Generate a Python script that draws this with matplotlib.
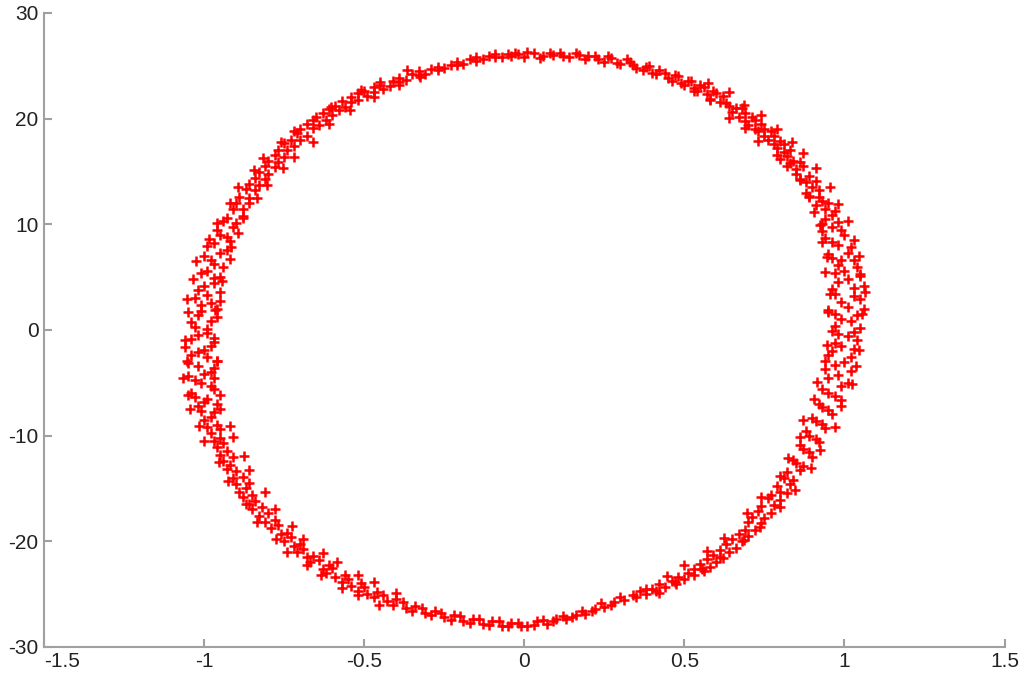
import matplotlib.pyplot as plt

x_q1 = [-0.02, 0.00, 0.03, 0.06, 0.09, 0.11, 0.14, 0.17, 0.19, 0.22, 0.25, 0.27, 0.30, 0.33, 0.35,
        0.38, 0.40, 0.42, 0.45, 0.47, 0.49, 0.51, 0.53, 0.55, 0.57, 0.59, 0.61, 0.62,
        0.64, 0.66, 0.67, 0.69, 0.70, 0.72, 0.73, 0.75, 0.76, 0.78, 0.79, 0.81, 0.82, 0.80,
        0.84, 0.85, 0.87, 0.86, 0.89, 0.90, 0.88, 0.92, 0.93, 0.91, 0.95, 0.96, 0.94,
        0.98, 0.93, 1.00, 0.96, 1.02, 0.95, 0.99, 1.04, 0.97, 1.01, 1.06, 0.96, 1.03, 0.99,
        1.06, 0.97, 1.02, 1.05, 0.96]
y_q1 = [26.1, 25.8, 26.2, 25.9, 26.0, 26.2, 25.8, 26.0, 25.6, 25.9, 25.4, 25.7, 25.2, 25.4, 24.8,
        24.9, 24.3, 24.6, 23.8, 24.1, 23.4, 23.6, 22.9, 23.2, 22.3, 22.6, 21.6, 22.1,
        21.2, 21.0, 20.2, 20.5, 19.4, 19.9, 18.8, 19.0, 18.0, 18.4, 17.2, 17.6, 16.5, 16.2,
        16.0, 15.2, 15.5, 14.3, 14.6, 13.5, 13.0, 13.2, 12.2, 11.8, 12.0, 10.9, 10.5,
        10.2, 9.4, 9.0, 8.3, 7.8, 7.2, 6.6, 6.0, 5.4, 4.8, 4.2, 3.9, 3.2, 2.6,
        2.0, 1.5, 0.8, 0.2, -0.1]

x_q4 = [1.01, 0.97, 1.03, 0.95, 1.00, 0.94, 0.98, 1.01, 0.93, 0.97, 0.92, 0.95, 0.90, 0.93,
        0.88, 0.91, 0.86, 0.89, 0.84, 0.87, 0.82, 0.84, 0.79, 0.82, 0.76, 0.78, 0.73, 0.75,
        0.70, 0.72, 0.67, 0.68, 0.63, 0.64, 0.59, 0.60, 0.55, 0.56, 0.51, 0.50, 0.46, 0.44,
        0.40, 0.38, 0.34, 0.31, 0.28, 0.25, 0.22, 0.19, 0.16, 0.13, 0.10, 0.07, 0.04, 0.01]
y_q4 = [-0.6, -1.2, -1.8, -2.4, -3.0, -3.7, -4.3, -5.0, -5.6, -6.3, -7.0, -7.6, -8.3, -8.9,
        -9.6, -10.3, -10.9, -11.6, -12.3, -12.9, -13.5, -14.2, -14.8, -15.4, -15.9, -16.6, -17.1, -17.8,
        -18.2, -18.9, -19.3, -20.0, -20.3, -21.0, -21.3, -22.0, -22.2, -22.8, -23.0, -23.6, -23.8, -24.3,
        -24.5, -25.0, -25.1, -25.6, -25.8, -26.2, -26.4, -26.9, -27.0, -27.4, -27.4, -27.8, -27.6, -28.0]

x_q3 = [-0.02, -0.05, -0.08, -0.11, -0.14, -0.17, -0.20, -0.23, -0.26, -0.29, -0.32, -0.35,
        -0.38, -0.41, -0.44, -0.47, -0.50, -0.52, -0.55, -0.57, -0.60, -0.62, -0.64, -0.67,
        -0.69, -0.71, -0.73, -0.75, -0.77, -0.79, -0.80, -0.83, -0.84, -0.86, -0.87, -0.89,
        -0.88, -0.91, -0.92, -0.94, -0.93, -0.96, -0.95, -0.98, -0.96, -1.00, -0.97, -1.02,
        -0.99, -1.04, -0.97, -1.01, -1.05, -0.98, -1.02, -0.96, -1.04, -1.00, -1.06, -0.97, -1.02]
y_q3 = [-27.7, -28.0, -27.6, -27.9, -27.4, -27.7, -27.1, -27.5, -26.8, -27.0, -26.3, -26.6,
        -25.8, -26.0, -25.1, -25.3, -24.3, -24.7, -23.6, -23.9, -22.5, -23.0, -21.8, -22.0,
        -20.7, -21.0, -19.6, -20.0, -18.5, -18.8, -17.3, -17.6, -16.2, -16.5, -15.0, -15.3,
        -13.9, -14.0, -12.8, -12.4, -11.5, -11.1, -10.2, -9.8, -9.0, -8.5, -7.8, -7.2,
        -6.5, -6.0, -5.6, -5.0, -4.4, -4.0, -3.4, -2.9, -2.4, -1.9, -1.6, -1.1, -0.5]

x_q2 = [-0.99, -1.04, -0.96, -1.01, -0.98, -1.03, -0.95, -1.00, -0.97, -1.01, -0.94, -0.98,
        -0.95, -0.99, -0.92, -0.95, -0.91, -0.94, -0.88, -0.91, -0.86, -0.89, -0.84, -0.86,
        -0.81, -0.83, -0.78, -0.80, -0.75, -0.77, -0.72, -0.73, -0.68, -0.70, -0.64, -0.66,
        -0.60, -0.61, -0.56, -0.57, -0.52, -0.52, -0.47, -0.47, -0.42, -0.41, -0.37, -0.35,
        -0.31, -0.29, -0.25, -0.23, -0.19, -0.17, -0.13, -0.11, -0.07, -0.05]
y_q2 = [0.1, 0.7, 1.2, 1.8, 2.5, 3.0, 3.6, 4.2, 4.9, 5.4, 6.0, 6.6,
        7.3, 7.9, 8.4, 9.0, 9.7, 10.3, 10.8, 11.4, 12.0, 12.6, 13.2, 13.8,
        14.3, 14.9, 15.4, 16.0, 16.4, 17.0, 17.4, 18.0, 18.4, 19.0, 19.4, 19.9,
        20.3, 20.9, 21.1, 21.7, 21.8, 22.4, 22.5, 23.0, 23.1, 23.6, 23.7, 24.2,
        24.2, 24.7, 24.8, 25.1, 25.2, 25.6, 25.6, 25.9, 25.8, 26.1]

# a second pass over the band, filling the gaps between the first points
extra_q1 = [(-0.04, 25.9), (0.01, 26.3), (0.05, 25.7), (0.08, 26.2), (0.12, 25.9), (0.16, 26.2),
            (0.20, 25.9), (0.23, 25.6), (0.26, 25.9), (0.29, 25.3), (0.32, 25.6), (0.34, 25.1),
            (0.37, 24.6), (0.39, 25.0), (0.41, 24.2), (0.44, 24.3), (0.46, 23.6), (0.48, 24.0),
            (0.50, 23.2), (0.52, 23.6), (0.54, 22.6), (0.56, 23.0), (0.58, 21.9), (0.60, 22.4),
            (0.63, 21.5), (0.65, 20.6), (0.68, 21.0), (0.69, 19.8), (0.71, 20.2), (0.72, 19.0),
            (0.74, 19.5), (0.75, 18.4), (0.77, 18.8), (0.78, 17.6), (0.80, 17.9), (0.81, 16.8),
            (0.83, 17.0), (0.83, 15.8), (0.86, 15.9), (0.85, 14.8), (0.88, 14.0), (0.91, 14.1),
            (0.89, 12.6), (0.92, 12.6), (0.94, 11.4), (0.97, 11.3), (0.93, 10.0), (0.96, 9.7),
            (0.99, 9.5), (0.94, 8.7), (0.98, 8.0), (1.01, 7.3), (0.96, 6.8), (1.03, 6.6),
            (0.98, 6.1), (1.00, 5.6), (1.05, 5.1), (0.98, 4.5), (1.03, 4.0), (0.97, 3.4),
            (1.05, 2.9), (1.01, 2.2), (0.95, 1.9), (1.04, 1.4), (0.99, 1.0), (0.97, 0.4),
            (1.03, -0.2)]
extra_q4 = [(0.98, -0.4), (1.04, -1.0), (0.99, -1.5), (0.96, -2.0), (1.02, -2.6), (0.97, -3.3),
            (1.02, -3.9), (0.95, -4.6), (0.99, -5.3), (0.95, -6.0), (0.99, -6.6), (0.93, -7.3),
            (0.96, -8.0), (0.91, -8.6), (0.94, -9.3), (0.89, -10.0), (0.92, -10.6), (0.87, -11.3),
            (0.90, -12.0), (0.85, -12.6), (0.86, -13.3), (0.81, -14.0), (0.83, -14.6), (0.80, -15.3),
            (0.77, -15.6), (0.80, -16.1), (0.74, -16.7), (0.77, -17.3), (0.71, -17.7), (0.74, -18.3),
            (0.69, -18.9), (0.70, -19.5), (0.65, -19.8), (0.66, -20.6), (0.61, -20.8), (0.62, -21.6),
            (0.57, -21.7), (0.58, -22.4), (0.53, -22.6), (0.53, -23.2), (0.48, -23.4), (0.47, -23.9),
            (0.42, -24.1), (0.41, -24.7), (0.36, -24.7), (0.35, -25.3), (0.30, -25.3), (0.27, -26.0),
            (0.24, -25.9), (0.21, -26.6), (0.18, -26.6), (0.15, -27.2), (0.12, -27.1), (0.09, -27.6),
            (0.06, -27.5), (0.03, -27.9)]
extra_q3 = [(-0.01, -28.0), (-0.04, -27.7), (-0.07, -28.0), (-0.10, -27.6), (-0.13, -27.8),
            (-0.16, -27.4), (-0.19, -27.6), (-0.22, -27.0), (-0.25, -27.2), (-0.28, -26.6),
            (-0.31, -26.8), (-0.34, -26.1), (-0.37, -26.3), (-0.40, -25.5), (-0.43, -25.7),
            (-0.46, -24.8), (-0.49, -25.0), (-0.51, -24.0), (-0.54, -24.2), (-0.56, -23.2),
            (-0.59, -23.4), (-0.61, -22.3), (-0.63, -22.6), (-0.66, -21.4), (-0.68, -21.5),
            (-0.70, -20.3), (-0.72, -20.5), (-0.74, -19.2), (-0.76, -19.3), (-0.78, -18.0),
            (-0.81, -18.2), (-0.82, -16.8), (-0.85, -17.0), (-0.85, -15.6), (-0.88, -15.8),
            (-0.86, -14.5), (-0.90, -14.6), (-0.90, -13.4), (-0.93, -13.2), (-0.91, -12.0),
            (-0.95, -11.8), (-0.94, -10.7), (-0.97, -10.5), (-0.95, -9.4), (-0.99, -9.2),
            (-0.98, -8.2), (-1.01, -7.7), (-0.96, -7.0), (-1.00, -6.8), (-1.03, -6.4),
            (-0.98, -5.3), (-1.03, -4.7), (-1.00, -4.2), (-0.97, -3.6), (-1.05, -3.1),
            (-0.99, -2.6), (-1.02, -2.1), (-0.98, -1.5), (-1.04, -0.9), (-0.99, -0.3)]
extra_q2 = [(-1.03, 0.3), (-0.98, 0.8), (-1.02, 1.4), (-0.96, 2.0), (-1.01, 2.4), (-0.99, 3.3),
            (-1.02, 3.8), (-0.97, 4.4), (-0.95, 5.0), (-0.99, 5.6), (-0.97, 6.2), (-1.00, 7.0),
            (-0.93, 7.6), (-0.97, 8.2), (-0.93, 8.8), (-0.96, 9.5), (-0.90, 10.1), (-0.93, 10.6),
            (-0.88, 11.4), (-0.90, 12.0), (-0.86, 12.5), (-0.87, 13.3), (-0.83, 13.7), (-0.84, 14.4),
            (-0.80, 14.8), (-0.81, 15.5), (-0.77, 15.9), (-0.78, 16.6), (-0.74, 17.0), (-0.75, 17.7),
            (-0.70, 18.0), (-0.71, 18.6), (-0.66, 19.1), (-0.68, 19.5), (-0.62, 19.9), (-0.63, 20.5),
            (-0.58, 20.8), (-0.59, 21.2), (-0.54, 21.6), (-0.54, 22.0), (-0.49, 22.1), (-0.50, 22.6),
            (-0.44, 22.8), (-0.45, 23.2), (-0.39, 23.5), (-0.39, 23.8), (-0.33, 24.1), (-0.33, 24.5),
            (-0.27, 24.6), (-0.27, 24.9), (-0.21, 25.1), (-0.21, 25.4), (-0.15, 25.5), (-0.15, 25.8),
            (-0.09, 25.8), (-0.09, 26.1), (-0.03, 26.2)]

# points along the outer and inner edges, where the band is widest
edge_q1 = [(0.575, 23.4), (0.64, 22.5), (0.685, 21.3), (0.74, 20.3), (0.79, 19.0), (0.835, 17.8),
           (0.87, 16.7), (0.91, 15.3), (0.955, 13.5), (0.98, 11.9), (1.01, 10.3), (1.03, 8.5),
           (1.045, 7.0), (1.05, 5.3), (1.065, 3.6), (1.055, 1.5),
           (0.53, 22.6), (0.58, 21.8), (0.64, 20.1), (0.69, 19.1), (0.73, 17.9), (0.79, 16.6),
           (0.82, 15.5), (0.86, 14.2), (0.89, 12.7), (0.905, 11.2), (0.925, 9.9), (0.93, 8.3),
           (0.945, 6.9), (0.94, 5.5), (0.955, 3.4), (0.95, 1.7)]
edge_q4 = [(1.045, -1.9), (1.035, -3.4), (1.025, -5.1), (0.99, -7.2), (0.97, -9.2), (0.925, -11.4),
           (0.895, -13.1), (0.845, -15.2), (0.8, -16.8), (0.735, -18.7), (0.685, -19.9), (0.61, -21.5),
           (0.555, -22.6), (0.475, -24.1), (0.42, -24.9),
           (0.945, -1.4), (0.94, -2.9), (0.915, -4.9), (0.905, -6.5), (0.87, -8.5), (0.86, -10.1),
           (0.825, -12.1), (0.8, -13.8), (0.74, -15.8), (0.695, -17.3), (0.625, -19.7), (0.57, -20.9),
           (0.5, -22.3), (0.445, -23.3), (0.38, -24.5)]
edge_q3 = [(-0.455, -26.0), (-0.52, -25.1), (-0.57, -24.4), (-0.635, -23.2), (-0.68, -22.3),
           (-0.74, -21.0), (-0.775, -19.8), (-0.835, -18.2), (-0.87, -16.5), (-0.925, -14.3),
           (-0.955, -12.5), (-1.0, -10.5), (-1.015, -9.1), (-1.045, -7.5), (-1.05, -6.2),
           (-1.065, -4.6), (-1.055, -2.9), (-1.06, -1.0),
           (-0.4, -24.9), (-0.47, -23.9), (-0.52, -23.2), (-0.585, -22.0), (-0.63, -21.1),
           (-0.69, -19.8), (-0.725, -18.6), (-0.78, -17.0), (-0.81, -15.3), (-0.86, -13.3),
           (-0.875, -11.9), (-0.91, -10.1), (-0.92, -9.1), (-0.95, -7.5), (-0.95, -6.2),
           (-0.97, -4.6), (-0.96, -2.9), (-0.97, -0.8)]
edge_q2 = [(-1.05, 1.7), (-1.055, 2.9), (-1.035, 4.8), (-1.025, 6.5), (-0.985, 8.6), (-0.96, 10.1),
           (-0.92, 12.0), (-0.895, 13.5), (-0.845, 15.1), (-0.815, 16.3), (-0.76, 17.8), (-0.72, 18.8),
           (-0.65, 20.2), (-0.605, 21.1), (-0.51, 22.7), (-0.45, 23.5), (-0.365, 24.6),
           (-0.965, 1.9), (-0.95, 2.7), (-0.945, 4.6), (-0.92, 6.7), (-0.915, 7.8), (-0.895, 9.2),
           (-0.88, 10.6), (-0.835, 12.5), (-0.805, 13.7), (-0.755, 15.3), (-0.72, 16.4), (-0.66, 17.8),
           (-0.61, 19.5), (-0.545, 20.8), (-0.47, 22.0), (-0.39, 23.2), (-0.325, 23.9)]

x_ticks = [-1.5, -1, -0.5, 0, 0.5, 1, 1.5]
x_labels = ['-1.5', '-1', '-0.5', '0', '0.5', '1', '1.5']
y_ticks = [-30, -20, -10, 0, 10, 20, 30]
y_labels = ['-30', '-20', '-10', '0', '10', '20', '30']

plt.rcParams['font.family'] = ['Liberation Sans', 'DejaVu Sans']
plt.rcParams['axes.unicode_minus'] = False

fig = plt.figure(figsize=(10.24, 6.83), dpi=100)
ax = fig.add_axes([0.043, 0.053, 0.938, 0.928])

series = [(x_q1, y_q1), (x_q4, y_q4), (x_q3, y_q3), (x_q2, y_q2)]
for pts in [extra_q1, extra_q4, extra_q3, extra_q2, edge_q1, edge_q4, edge_q3, edge_q2]:
    xs, ys = zip(*pts)
    series.append((xs, ys))

for xs, ys in series:
    ax.plot(xs, ys, linestyle='none', marker='+', color='red',
            markersize=6.5, markeredgewidth=1.8)

ax.set_xlim(-1.5, 1.5)
ax.set_ylim(-30, 30)
ax.set_xticks(x_ticks)
ax.set_xticklabels(x_labels)
ax.set_yticks(y_ticks)
ax.set_yticklabels(y_labels)
# the first x label sits to the right of its tick, clear of "-30"
ax.get_xticklabels()[0].set_horizontalalignment('left')

for side in ['top', 'right']:
    ax.spines[side].set_visible(False)
for side in ['left', 'bottom']:
    ax.spines[side].set_color('#a0a0a0')
    ax.spines[side].set_linewidth(1.5)

ax.tick_params(direction='in', length=6, width=1.5, color='#a0a0a0',
               labelsize=15, labelcolor='#222222', pad=4)

fig.savefig('out.png', dpi=100)
